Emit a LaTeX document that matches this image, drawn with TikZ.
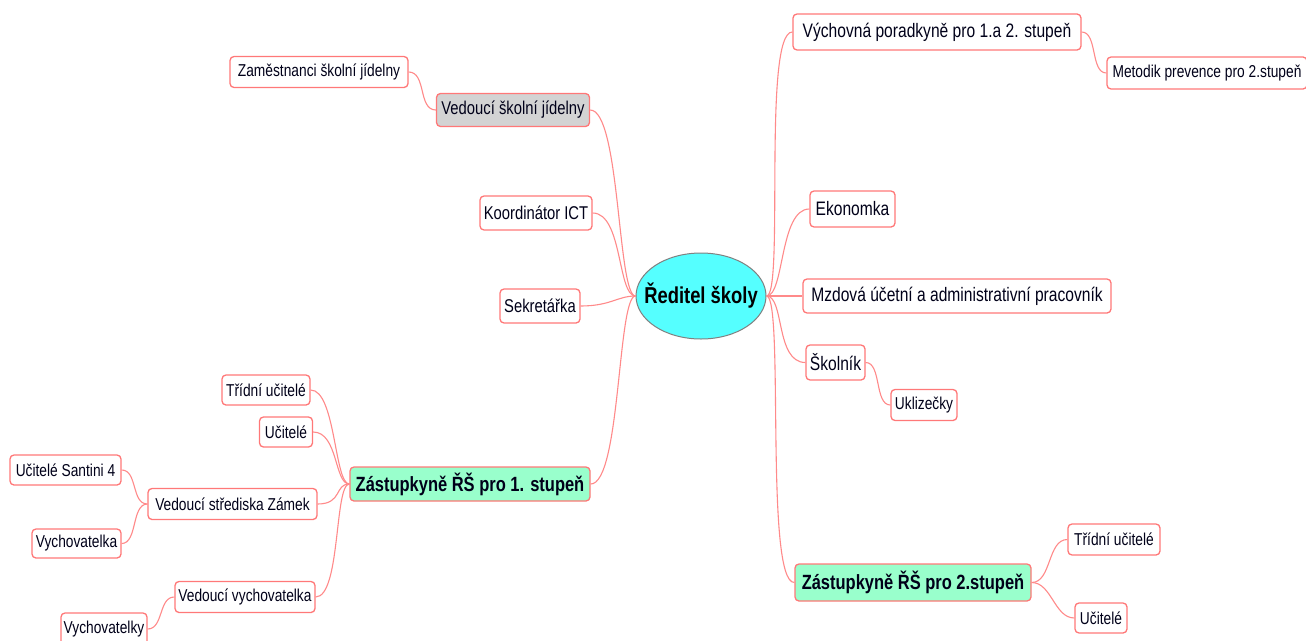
\documentclass[tikz,border=0pt]{standalone}
\usepackage{fontspec}
\setmainfont[FakeStretch=0.8]{Liberation Sans}
\usetikzlibrary{shapes.geometric}
\definecolor{linered}{HTML}{FF8A8A}
\definecolor{boxred}{HTML}{FF7878}
\definecolor{rootcyan}{HTML}{55FFFF}
\definecolor{deputygreen}{HTML}{99FFCC}
\definecolor{headgray}{HTML}{D3D3D3}
\tikzset{
  box/.style={draw=boxred, rounded corners=4pt, fill=white, line width=1.3pt, inner sep=0pt, text=black!90!blue},
  fmid/.style={font=\fontsize{18.5}{20}\selectfont},
  fbig/.style={font=\fontsize{19.5}{21}\selectfont},
  fsmall/.style={font=\fontsize{17.2}{19}\selectfont},
  fbold/.style={font=\bfseries\fontsize{20.6}{23}\selectfont},
  conn/.style={draw=linered, line width=1.1pt},
}
\begin{document}
\begin{tikzpicture}[x=1pt,y=-1pt]
\useasboundingbox (0,0) rectangle (1306,640);
\fill[white] (0,0) rectangle (1306,640);
\clip (0,0) rectangle (1306,640);

% root
\node[ellipse, draw=gray, line width=1pt, fill=rootcyan, minimum width=130pt, minimum height=86pt, inner xsep=-20pt, inner ysep=0pt, font=\bfseries\fontsize{23}{25}\selectfont] (root) at (701,296) {Ředitel školy};

% left side
\node[box, fill=headgray, fmid, minimum width=153pt, minimum height=33pt] (jid) at (513,110) {Vedoucí školní jídelny};
\node[box, fsmall, minimum width=178pt, minimum height=31pt] (zam) at (319,72) {Zaměstnanci školní jídelny};
\node[box, fmid, minimum width=112pt, minimum height=34pt] (ict) at (536,213) {Koordinátor ICT};
\node[box, fmid, minimum width=80pt, minimum height=34pt] (sek) at (540,306) {Sekretářka};
\node[box, fill=deputygreen, fbold, minimum width=240pt, minimum height=34pt] (z1) at (470,484) {Zástupkyně ŘŠ pro 1. stupeň};
\node[box, fsmall, minimum width=88pt, minimum height=30pt] (tu1) at (266,390) {Třídní učitelé};
\node[box, fsmall, minimum width=53pt, minimum height=30pt] (uc1) at (286,432) {Učitelé};
\node[box, fsmall, minimum width=169pt, minimum height=31pt] (vsz) at (232.5,504) {Vedoucí střediska Zámek};
\node[box, fsmall, minimum width=111pt, minimum height=30pt] (san) at (65.5,470) {Učitelé Santini 4};
\node[box, fsmall, minimum width=89pt, minimum height=29pt] (vka) at (76.5,543.5) {Vychovatelka};
\node[box, fsmall, minimum width=140pt, minimum height=31pt] (vvy) at (245,597) {Vedoucí vychovatelka};
\node[box, fsmall, minimum width=86pt, minimum height=32pt] (vky) at (104,629) {Vychovatelky};

% right side
\node[box, fbig, minimum width=288pt, minimum height=36pt] (vp) at (937,32) {Výchovná poradkyně pro 1.a 2. stupeň};
\node[box, fsmall, minimum width=200pt, minimum height=32pt] (met) at (1207,73) {Metodik prevence pro 2.stupeň};
\node[box, fbig, minimum width=85pt, minimum height=36pt] (eko) at (852.5,209) {Ekonomka};
\node[box, fbig, minimum width=308pt, minimum height=34pt] (mzd) at (957,296) {Mzdová účetní a administrativní pracovník};
\node[box, fbig, minimum width=59pt, minimum height=35pt] (sko) at (835.5,362.5) {Školník};
\node[box, fsmall, minimum width=66pt, minimum height=31pt] (ukl) at (924,405) {Uklizečky};
\node[box, fill=deputygreen, fbold, minimum width=236pt, minimum height=37pt] (z2) at (913,582.5) {Zástupkyně ŘŠ pro 2.stupeň};
\node[box, fsmall, minimum width=92pt, minimum height=31pt] (tu2) at (1114,539.5) {Třídní učitelé};
\node[box, fsmall, minimum width=52pt, minimum height=30pt] (uc2) at (1101,618) {Učitelé};

% connectors from root
\foreach \c in {jid,ict,sek,z1}{
  \draw[conn] (root.west) .. controls +(-18,0) and +(30,0) .. (\c.east);
}
\foreach \c in {vp,eko,mzd,sko,z2}{
  \draw[conn] (root.east) .. controls +(18,0) and +(-30,0) .. (\c.west);
}
% second level
\draw[conn] (jid.west) .. controls +(-18,0) and +(18,0) .. (zam.east);
\foreach \c in {tu1,uc1,vsz,vvy}{
  \draw[conn] (z1.west) .. controls +(-15,0) and +(25,0) .. (\c.east);
}
\draw[conn] (vsz.west) .. controls +(-16,0) and +(16,0) .. (san.east);
\draw[conn] (vsz.west) .. controls +(-16,0) and +(16,0) .. (vka.east);
\draw[conn] (vvy.west) .. controls +(-16,0) and +(16,0) .. (vky.east);
\draw[conn] (vp.east) .. controls +(16,0) and +(-16,0) .. (met.west);
\draw[conn] (sko.east) .. controls +(16,0) and +(-16,0) .. (ukl.west);
\draw[conn] (z2.east) .. controls +(20,0) and +(-20,0) .. (tu2.west);
\draw[conn] (z2.east) .. controls +(20,0) and +(-20,0) .. (uc2.west);
\end{tikzpicture}
\end{document}
